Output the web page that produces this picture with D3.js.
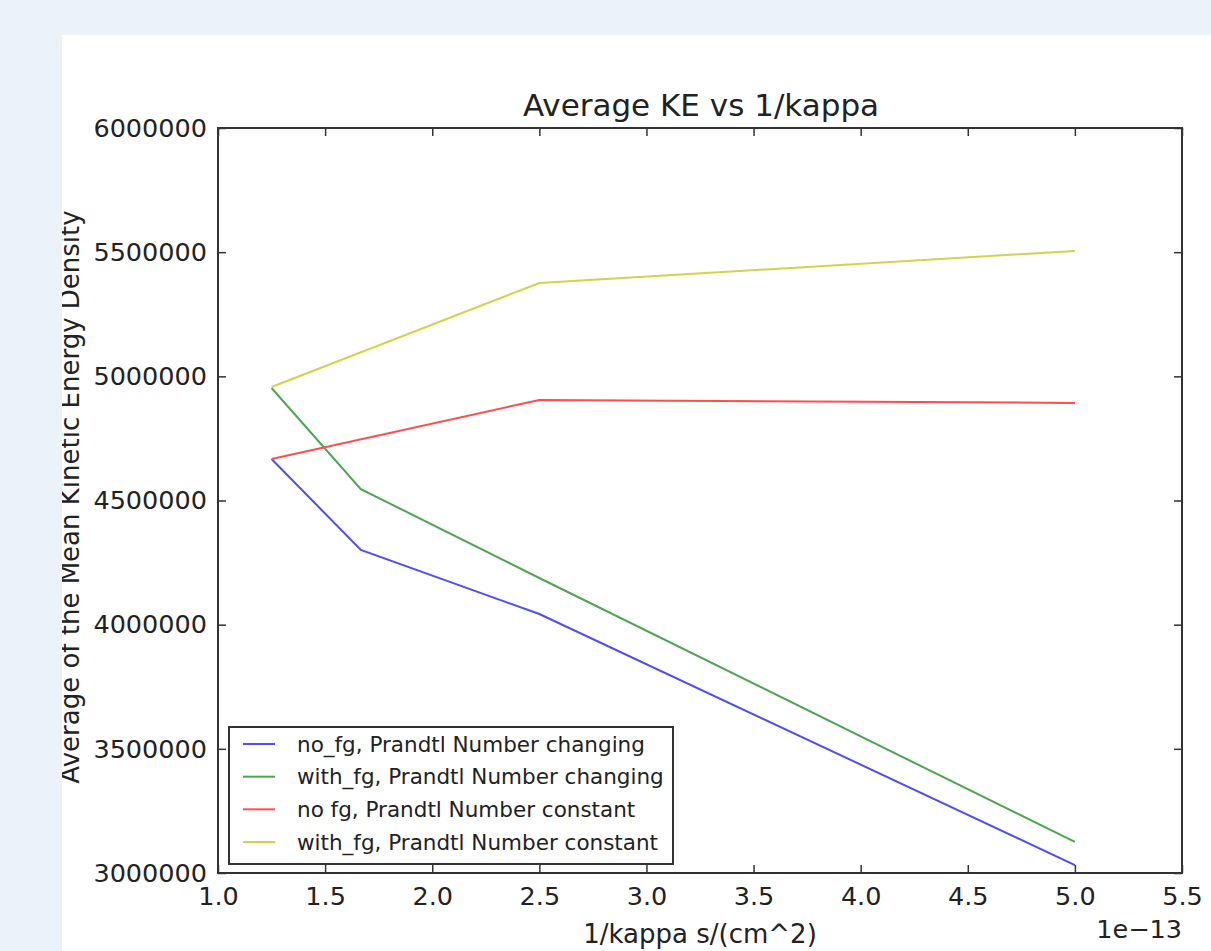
<!DOCTYPE html>
<html>
<head>
<meta charset="utf-8">
<script src="https://cdn.jsdelivr.net/npm/d3@7"></script>
<style>
  html, body { margin: 0; padding: 0; background: #ebf2fa; }
  svg { display: block; }
  text { font-family: "DejaVu Sans", sans-serif; fill: #222; }
</style>
</head>
<body>
<svg id="chart" width="1211" height="951"></svg>
<script>
// ---- data (x in units of 1e-13 s/cm^2) ----
const xNoFgChanging = [1.25, 1.6667, 2.5, 5.0];
const yNoFgChanging = [4667000, 4301000, 4043000, 3032000];

const xWithFgChanging = [1.25, 1.6667, 2.5, 5.0];
const yWithFgChanging = [4953000, 4546000, 4188000, 3125000];

const xNoFgConstant = [1.25, 2.5, 5.0];
const yNoFgConstant = [4667000, 4905000, 4893000];

const xWithFgConstant = [1.25, 2.5, 5.0];
const yWithFgConstant = [4957000, 5376000, 5505000];

const seriesNames = [
  "no_fg, Prandtl Number changing",
  "with_fg, Prandtl Number changing",
  "no fg, Prandtl Number constant",
  "with_fg, Prandtl Number constant"
];
const seriesColors = ["#4d4dff", "#4da64d", "#ff4d4d", "#d2d24d"];

const xTicks = [1.0, 1.5, 2.0, 2.5, 3.0, 3.5, 4.0, 4.5, 5.0, 5.5];
const yTicks = [3000000, 3500000, 4000000, 4500000, 5000000, 5500000, 6000000];

const titleText = "Average KE vs 1/kappa";
const xLabelText = "1/kappa s/(cm^2)";
const yLabelText = "Average of the Mean Kinetic Energy Density";
const offsetText = "1e\u221213";

// ---- layout ----
const svg = d3.select("#chart");
const W = 1211, H = 951;
const panel = { x: 62, y: 35 };
const plot = { left: 218, right: 1182, top: 128, bottom: 873 };

svg.append("rect").attr("width", W).attr("height", H).attr("fill", "#ebf2fa");
svg.append("defs").append("clipPath").attr("id", "panelClip")
  .append("rect").attr("x", panel.x).attr("y", panel.y)
  .attr("width", W - panel.x).attr("height", H - panel.y);
svg.append("rect").attr("x", panel.x).attr("y", panel.y)
  .attr("width", W - panel.x).attr("height", H - panel.y).attr("fill", "#ffffff");

const root = svg.append("g").attr("clip-path", "url(#panelClip)");

const x = d3.scaleLinear().domain([1.0, 5.5]).range([plot.left, plot.right]);
const y = d3.scaleLinear().domain([3000000, 6000000]).range([plot.bottom, plot.top]);

// lines
const series = [
  { xs: xNoFgChanging, ys: yNoFgChanging },
  { xs: xWithFgChanging, ys: yWithFgChanging },
  { xs: xNoFgConstant, ys: yNoFgConstant },
  { xs: xWithFgConstant, ys: yWithFgConstant }
];
const line = d3.line().x(d => x(d[0])).y(d => y(d[1]));
series.forEach((s, i) => {
  const pts = s.xs.map((v, j) => [v, s.ys[j]]);
  root.append("path").datum(pts)
    .attr("d", line)
    .attr("fill", "none")
    .attr("stroke", seriesColors[i])
    .attr("stroke-width", 2);
});

// axes (inward ticks on all four sides, matplotlib classic)
const tickLen = 8;
const fmtX = d3.format(".1f");
const fmtY = d3.format("d");

const axBottom = root.append("g").attr("transform", `translate(0,${plot.bottom})`)
  .call(d3.axisBottom(x).tickValues(xTicks).tickSize(-tickLen).tickPadding(14).tickFormat(fmtX));
const axTop = root.append("g").attr("transform", `translate(0,${plot.top})`)
  .call(d3.axisTop(x).tickValues(xTicks).tickSize(-tickLen).tickFormat(""));
const axLeft = root.append("g").attr("transform", `translate(${plot.left},0)`)
  .call(d3.axisLeft(y).tickValues(yTicks).tickSize(-tickLen).tickPadding(11).tickFormat(fmtY));
const axRight = root.append("g").attr("transform", `translate(${plot.right},0)`)
  .call(d3.axisRight(y).tickValues(yTicks).tickSize(-tickLen).tickFormat(""));

[axBottom, axTop, axLeft, axRight].forEach(a => {
  a.select(".domain").remove();
  a.selectAll(".tick line").attr("stroke", "#333").attr("stroke-width", 1.5);
  a.selectAll(".tick text").attr("font-family", "DejaVu Sans").attr("font-size", 25.5).attr("fill", "#222");
});
axBottom.selectAll(".tick text").attr("dy", "0.71em");

// frame
root.append("rect")
  .attr("x", plot.left).attr("y", plot.top)
  .attr("width", plot.right - plot.left).attr("height", plot.bottom - plot.top)
  .attr("fill", "none").attr("stroke", "#333").attr("stroke-width", 2);

// title
root.append("text").attr("x", 701).attr("y", 116)
  .attr("text-anchor", "middle").attr("font-size", 31).text(titleText);

// x label
root.append("text").attr("x", 700).attr("y", 943)
  .attr("text-anchor", "middle").attr("font-size", 26).text(xLabelText);

// offset text
root.append("text").attr("x", plot.right).attr("y", 938)
  .attr("text-anchor", "end").attr("font-size", 25.5).text(offsetText);

// y label (clipped at the panel edge)
root.append("text")
  .attr("transform", `translate(79,497) rotate(-90)`)
  .attr("text-anchor", "middle").attr("font-size", 26).text(yLabelText);

// legend
const leg = root.append("g");
const legBox = { x: 229, y: 727, w: 444, h: 137 };
leg.append("rect").attr("x", legBox.x).attr("y", legBox.y)
  .attr("width", legBox.w).attr("height", legBox.h)
  .attr("fill", "#ffffff").attr("stroke", "#333").attr("stroke-width", 2);
const rowY = d3.scalePoint().domain(seriesNames).range([744, 842]);
seriesNames.forEach((name, i) => {
  const yy = rowY(name);
  leg.append("line").attr("x1", 243).attr("x2", 275).attr("y1", yy).attr("y2", yy)
    .attr("stroke", seriesColors[i]).attr("stroke-width", 2);
  leg.append("text").attr("x", 297).attr("y", yy).attr("dy", "0.35em")
    .attr("font-size", 21.5).text(name);
});
</script>
</body>
</html>
